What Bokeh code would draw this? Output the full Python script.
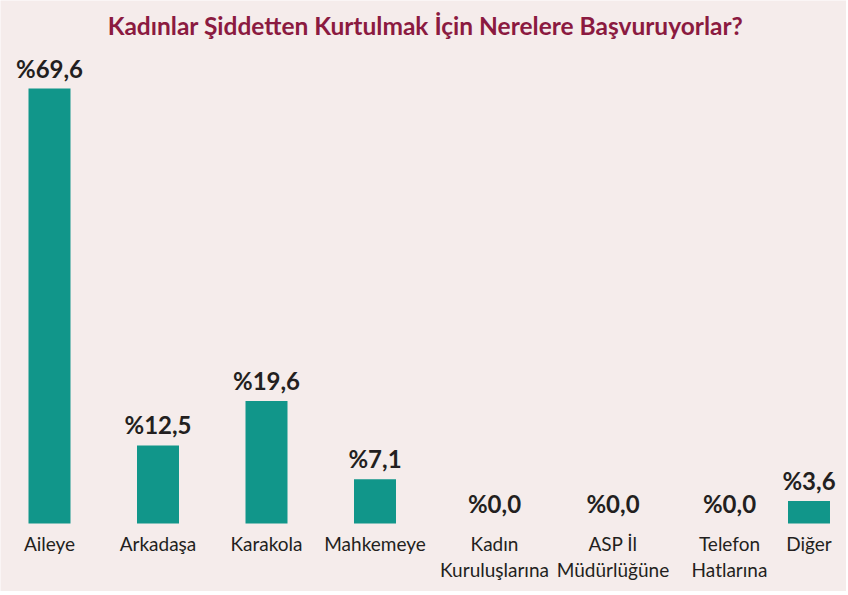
from bokeh.plotting import figure
from bokeh.models import ColumnDataSource, Range1d
from bokeh.core.properties import value
from bokeh.embed import file_html
from bokeh.resources import INLINE

title = "Kadınlar Şiddetten Kurtulmak İçin Nerelere Başvuruyorlar?"
categories = ["Aileye", "Arkadaşa", "Karakola", "Mahkemeye",
              "Kadın\nKuruluşlarına", "ASP İl\nMüdürlüğüne", "Telefon\nHatlarına", "Diğer"]
values = [69.6, 12.5, 19.6, 7.1, 0.0, 0.0, 0.0, 3.6]
value_labels = ["%" + f"{v:.1f}".replace(".", ",") for v in values]

# layout: horizontal nudges (px) of the labels, as in the original chart
label_nudge = [0, 0, 0, 0, 11, 21, 29, 0]

BG = "#f5eceb"
TEAL = "#11968a"
TEXT = "#231f20"
TITLE_C = "#8b1a40"

W, H = 846, 591
xs = list(range(len(categories)))
src = ColumnDataSource(dict(x=xs, top=values, lab=value_labels, cat=categories,
                            zero=[0] * len(xs), dx=label_nudge))

px_per_cat = 108.5
x0 = -49 / px_per_cat
px_per_unit = 6.25
y0 = -(H - 523) / px_per_unit

p = figure(width=W, height=H, output_backend="svg", toolbar_location=None,
           x_range=Range1d(x0, x0 + W / px_per_cat), y_range=Range1d(y0, y0 + H / px_per_unit),
           min_border=0, min_border_left=0, min_border_right=0, min_border_top=0, min_border_bottom=0)
p.background_fill_color = BG
p.border_fill_color = BG
p.outline_line_color = None
p.xgrid.visible = False
p.ygrid.visible = False
p.xaxis.visible = False
p.yaxis.visible = False

p.vbar(x="x", top="top", bottom=0, width=0.387, source=src, fill_color=TEAL, line_color=None)

p.text(x="x", y="top", text="lab", source=src, text_align="center", text_baseline="bottom",
       x_offset="dx", y_offset=-6, text_font=value("Lato"), text_font_style="bold",
       text_font_size="24px", text_color=TEXT)

p.text(x="x", y="zero", text="cat", source=src, text_align="center", text_baseline="top",
       x_offset="dx", y_offset=8, text_font=value("Lato"), text_font_size="19px",
       text_color=TEXT, text_line_height=1.15)

p.text(x=[x0 + 425 / px_per_cat], y=[y0 + (H - 25) / px_per_unit], text=[title],
       text_align="center", text_baseline="middle", text_font=value("Lato"),
       text_font_style="bold", text_font_size="24.5px", text_color=TITLE_C)

open("out.html", "w").write(file_html(p, INLINE))
